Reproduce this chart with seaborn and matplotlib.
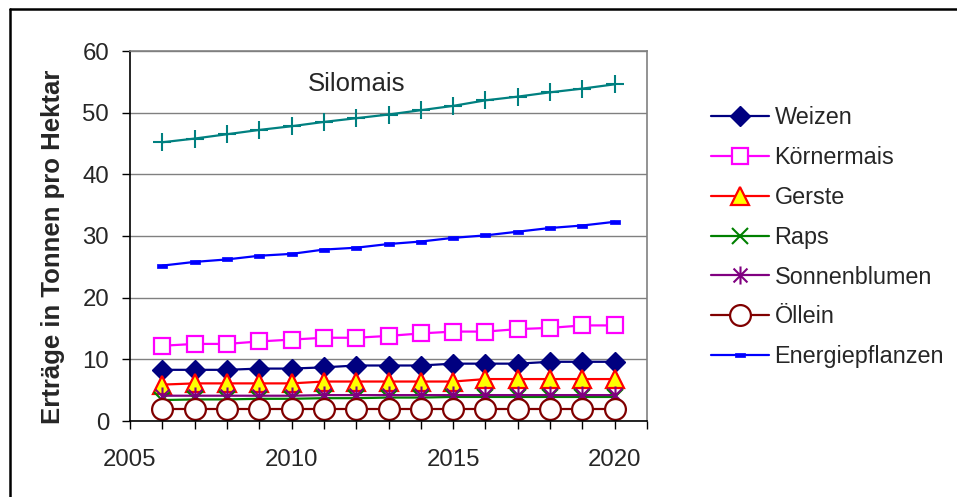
import numpy as np
import pandas as pd
import matplotlib
matplotlib.use("Agg")
import matplotlib.pyplot as plt
from matplotlib.path import Path
from matplotlib.lines import Line2D
import seaborn as sns

# Ertragsentwicklung 2006-2020 (t/ha)
jahre = list(range(2006, 2021))
weizen = [8.3, 8.3, 8.3, 8.5, 8.5, 8.7, 9.0, 9.0, 9.0, 9.3, 9.3, 9.3, 9.6, 9.6, 9.6]
koernermais = [12.2, 12.5, 12.5, 12.9, 13.2, 13.5, 13.5, 13.8, 14.2, 14.5, 14.5, 14.9, 15.1, 15.5, 15.5]
gerste = [5.9, 6.1, 6.1, 6.1, 6.1, 6.4, 6.4, 6.4, 6.4, 6.4, 6.8, 6.8, 6.8, 6.8, 6.8]
raps = [3.4, 3.5, 3.5, 3.6, 3.6, 3.7, 3.7, 3.8, 3.8, 3.9, 3.9, 3.9, 3.9, 3.9, 3.9]
sonnenblumen = [4.1, 4.1, 4.1, 4.1, 4.1, 4.2, 4.2, 4.2, 4.2, 4.2, 4.2, 4.2, 4.2, 4.2, 4.2]
oellein = [2.0] * 15
energiepflanzen = [25.2, 25.8, 26.2, 26.8, 27.1, 27.8, 28.1, 28.7, 29.1, 29.7, 30.1, 30.7, 31.3, 31.7, 32.3]
silomais = [45.2, 45.8, 46.5, 47.2, 47.8, 48.5, 49.1, 49.7, 50.4, 51.1, 52.0, 52.6, 53.3, 53.9, 54.6]

x_ticks = [2005, 2010, 2015, 2020]
y_ticks = [0, 10, 20, 30, 40, 50, 60]

reihen = {
    "Weizen": weizen,
    "Körnermais": koernermais,
    "Gerste": gerste,
    "Raps": raps,
    "Sonnenblumen": sonnenblumen,
    "Öllein": oellein,
    "Energiepflanzen": energiepflanzen,
    "Silomais": silomais,
}
df = pd.concat(
    [pd.DataFrame({"Jahr": jahre, "Ertrag": v, "Kultur": k}) for k, v in reihen.items()],
    ignore_index=True,
)

# Sonderformen der Markierungen
asterisk = Path(
    [(-1, -1), (1, 1), (-1, 1), (1, -1), (0, -1.3), (0, 1.3)],
    [Path.MOVETO, Path.LINETO, Path.MOVETO, Path.LINETO, Path.MOVETO, Path.LINETO],
)
dash = Path(
    [(-1, -0.45), (1, -0.45), (1, 0.45), (-1, 0.45), (-1, -0.45)],
    [Path.MOVETO, Path.LINETO, Path.LINETO, Path.LINETO, Path.CLOSEPOLY],
)

stile = {
    "Weizen": dict(color="#000080", marker="D", ms=10, mfc="#000080", mec="#000080", mew=1),
    "Körnermais": dict(color="#FF00FF", marker="s", ms=12, mfc="white", mec="#FF00FF", mew=1.6),
    "Gerste": dict(color="#FF0000", marker="^", ms=13, mfc="#FFFF00", mec="#FF0000", mew=1.6),
    "Raps": dict(color="#008000", marker="x", ms=12, mec="#008000", mew=1.5),
    "Sonnenblumen": dict(color="#800080", marker=asterisk, ms=13, mec="#800080", mew=1.5),
    "Öllein": dict(color="#800000", marker="o", ms=15, mfc="white", mec="#800000", mew=1.6),
    "Energiepflanzen": dict(color="#0000FF", marker=dash, ms=7, mfc="#0000FF", mec="#0000FF", mew=0.5),
    "Silomais": dict(color="#008080", marker="+", ms=13, mec="#008080", mew=1.5),
}

sns.set_style("white")
plt.rcParams["font.family"] = ["Liberation Sans", "DejaVu Sans"]

fig = plt.figure(figsize=(9.57, 4.97), dpi=100)
ax = fig.add_axes([130 / 957, 1 - 421 / 497, 517 / 957, 370 / 497])

for kultur in reihen:
    st = dict(stile[kultur])
    farbe = st.pop("color")
    sns.lineplot(
        data=df[df["Kultur"] == kultur], x="Jahr", y="Ertrag", ax=ax,
        color=farbe, lw=1.6, label=kultur if kultur != "Silomais" else None,
        legend=False, **st,
    )

ax.text(2012.0, 54.6, "Silomais", ha="center", va="center", fontsize=18.5)

ax.set_xlim(2005, 2021)
ax.set_ylim(0, 60)
ax.set_xticks(x_ticks)
ax.set_xticks(range(2005, 2022), minor=True)
ax.set_yticks(y_ticks)
ax.tick_params(axis="both", which="both", direction="out", length=6, width=1,
               color="black", labelsize=17.3, left=True, bottom=True)
ax.tick_params(axis="x", pad=14)
ax.tick_params(axis="y", pad=9)
ax.set_xlabel("")
ax.set_ylabel("")
ax.yaxis.grid(True, color="#808080", lw=1)
ax.xaxis.grid(False)
ax.set_axisbelow(True)
for s in ["top", "right"]:
    ax.spines[s].set_color("#808080")
    ax.spines[s].set_linewidth(1.2)
for s in ["left", "bottom"]:
    ax.spines[s].set_color("black")
    ax.spines[s].set_linewidth(1.2)

fig.text(53 / 957, 1 - 247 / 497, "Erträge in Tonnen pro Hektar", rotation=90,
         ha="center", va="center", fontsize=18.5, fontweight="bold")

handles, labels = ax.get_legend_handles_labels()
fig.legend(handles, labels, loc="upper left", bbox_to_anchor=(702 / 957, 1 - 97 / 497),
           frameon=False, fontsize=16.8, handlelength=2.45, handletextpad=0.26,
           labelspacing=0.72, borderaxespad=0)

# Rahmen um die Grafik
fig.add_artist(Line2D([10 / 957, 10 / 957], [1 - 9 / 497, -0.1], transform=fig.transFigure,
                      color="black", lw=1.8))
fig.add_artist(Line2D([10 / 957, 1.1], [1 - 9 / 497, 1 - 9 / 497], transform=fig.transFigure,
                      color="black", lw=1.8))

fig.savefig("out.png", dpi=100)
